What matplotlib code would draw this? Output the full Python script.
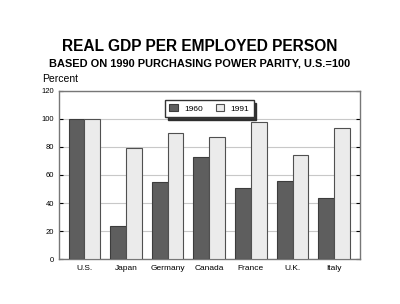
import matplotlib.pyplot as plt
import numpy as np

plt.rcParams['font.family'] = ['Liberation Sans', 'DejaVu Sans']

countries = ['U.S.', 'Japan', 'Germany', 'Canada', 'France', 'U.K.', 'Italy']
gdp_1960 = [100, 24, 55, 73, 50.5, 55.5, 43.5]
gdp_1991 = [100, 79, 90, 87, 97.5, 74, 93.5]
yticks = [0, 20, 40, 60, 80, 100, 120]

fig = plt.figure(figsize=(4, 3.04), dpi=100)
ax = fig.add_axes([0.1475, 0.147, 0.7525, 0.555])

x = np.arange(len(countries))
w = 0.38
ax.bar(x - w / 2, gdp_1960, w, color='#5e5e5e', edgecolor='#3c3c3c', linewidth=0.8,
       label='1960', zorder=3)
ax.bar(x + w / 2, gdp_1991, w, color='#ebebeb', edgecolor='#505050', linewidth=0.8,
       label='1991', zorder=3)

ax.set_xlim(-0.61, 6.62)
ax.set_ylim(0, 120)
ax.set_yticks(yticks)
ax.set_xticks(x)
ax.set_xticklabels(countries, fontsize=6)
ax.tick_params(axis='y', labelsize=5.5, length=3, direction='in', right=True)
ax.tick_params(axis='x', length=0, pad=4)
ax.grid(axis='y', color='#c8c8c8', linewidth=0.8, zorder=0)
for s in ax.spines.values():
    s.set_color('#777777')
    s.set_linewidth(1.0)

leg = ax.legend(loc='upper center', ncol=2, fontsize=6, frameon=True, shadow={'color': '#222222', 'alpha': 0.9},
                fancybox=False, handlelength=1.0, handleheight=1.0,
                borderpad=0.5, columnspacing=1.5, bbox_to_anchor=(0.5, 0.97))
leg.get_frame().set_edgecolor('#333333')

fig.text(0.5, 0.848, 'REAL GDP PER EMPLOYED PERSON', ha='center', va='center',
         fontsize=11.2, fontweight='bold')
fig.text(0.5, 0.79, 'BASED ON 1990 PURCHASING POWER PARITY, U.S.=100', ha='center',
         va='center', fontsize=7.9, fontweight='bold')
fig.text(0.105, 0.74, 'Percent', ha='left', va='center', fontsize=7.5)

fig.savefig('out.png', dpi=100, facecolor='white')
